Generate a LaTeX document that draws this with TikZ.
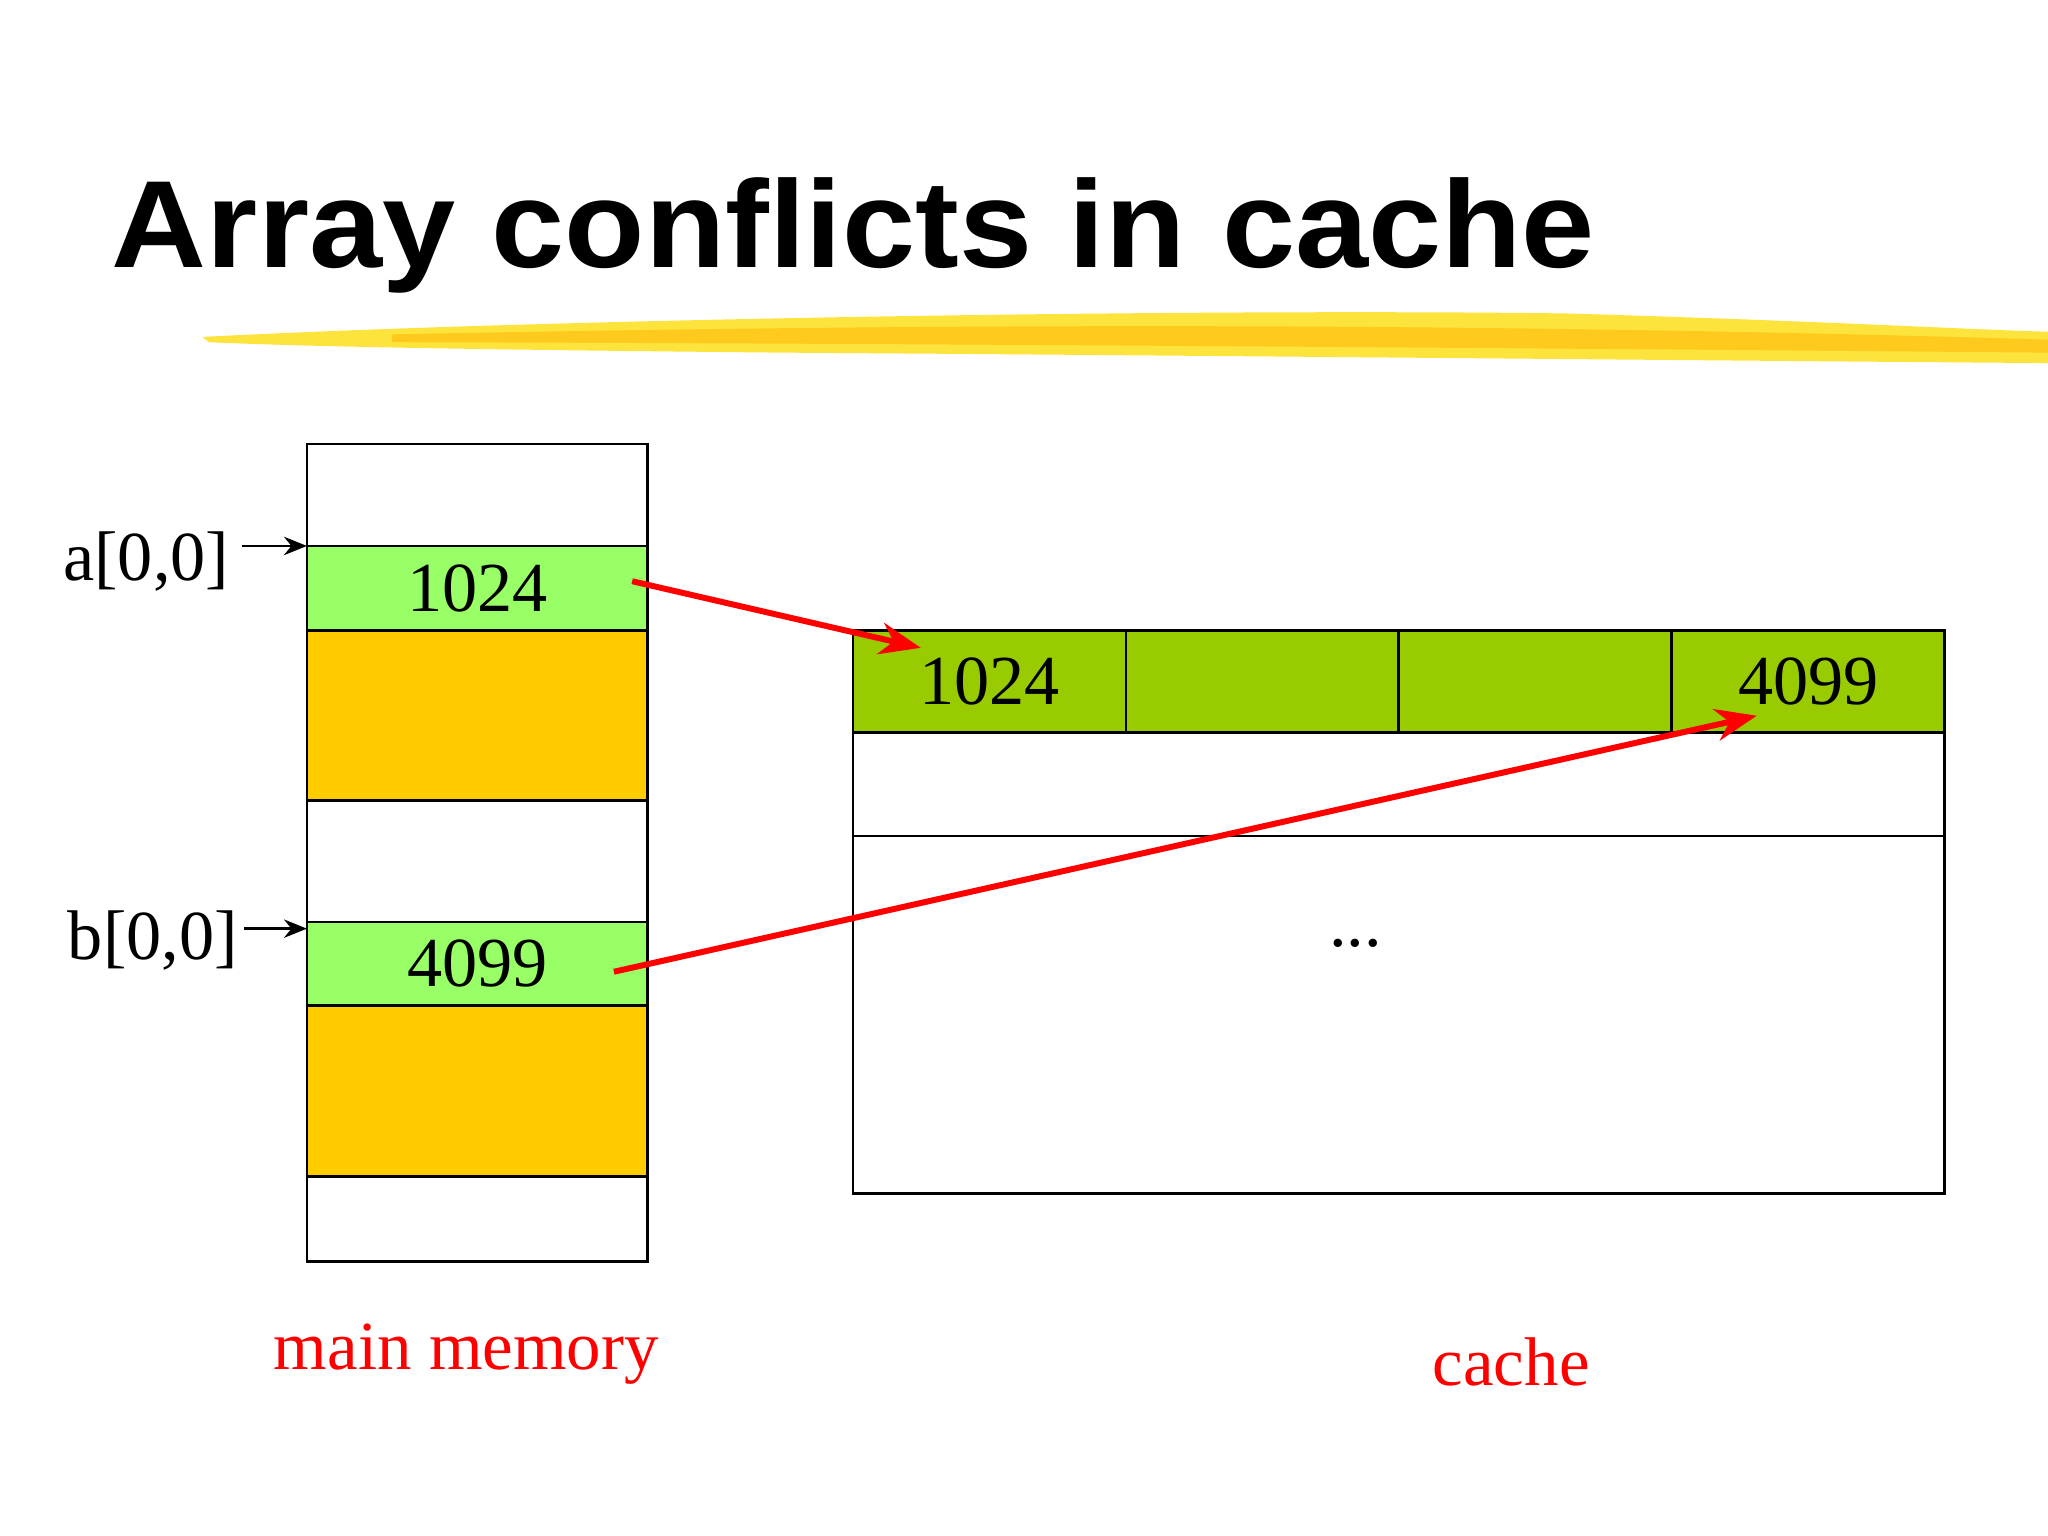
\documentclass[tikz,border=0pt]{standalone}
\usepackage{fontspec}
\usetikzlibrary{arrows.meta}
\setmainfont{Liberation Serif}
\newfontfamily\titlefont{Liberation Sans}
\begin{document}
\begin{tikzpicture}[x=0.01cm,y=-0.01cm,
  cell/.style={draw=black,line width=0.6pt},
  lab/.style={font=\fontsize{15.3}{18}\selectfont},
  redlab/.style={font=\fontsize{15}{18}\selectfont,text=red},
  redarrow/.style={draw=red,line width=1.3pt,-{Stealth[length=9pt,width=7pt]}},
  ptr/.style={-{Stealth[length=5pt,width=4pt]},line width=0.6pt}]
\useasboundingbox (0,0) rectangle (1568,1176);
\fill[white] (0,0) rectangle (1568,1176);
% title
\node[anchor=base west,inner sep=0,font=\titlefont\bfseries\fontsize{27}{30}\selectfont,xscale=1.06] (title) at (85,205) {Array conflicts in cache};
% brush stroke
\fill[yellow!80!orange!90!white,opacity=0.85] (155,258) .. controls (400,245) and (900,236) .. (1200,240) .. controls (1400,246) and (1500,252) .. (1568,254) -- (1568,278) .. controls (1300,276) and (900,272) .. (600,270) .. controls (400,268) and (250,266) .. (160,262) -- cycle;
\fill[orange!60!yellow,opacity=0.5] (300,256) .. controls (700,248) and (1100,246) .. (1568,260) -- (1568,270) .. controls (1100,266) and (700,263) .. (300,262) -- cycle;
% memory
\draw[cell] (235,340) rectangle (496,418);
\draw[cell,fill={rgb,255:red,153;green,255;blue,102}] (235,418) rectangle node[lab] (m1) {1024} (496,483);
\draw[cell,fill={rgb,255:red,255;green,204;blue,0}] (235,483) rectangle (496,613);
\draw[cell] (235,613) rectangle (496,706);
\draw[cell,fill={rgb,255:red,153;green,255;blue,102}] (235,706) rectangle node[lab] (m2) {4099} (496,770);
\draw[cell,fill={rgb,255:red,255;green,204;blue,0}] (235,770) rectangle (496,901);
\draw[cell] (235,901) rectangle (496,966);
\node[lab] (a) at (112,430) {a[0,0]};
\node[lab] (b) at (117,720) {b[0,0]};
\coordinate (at) at (235,418); \coordinate (bt) at (235,711);
\draw[ptr] (185,418) -- (at);
\draw[ptr] (187,711) -- (bt);
% cache
\draw[cell,fill={rgb,255:red,153;green,204;blue,0}] (653,483) rectangle node[lab] (c1) {1024} (862,561);
\draw[cell,fill={rgb,255:red,153;green,204;blue,0}] (862,483) rectangle (1071,561);
\draw[cell,fill={rgb,255:red,153;green,204;blue,0}] (1071,483) rectangle (1280,561);
\draw[cell,fill={rgb,255:red,153;green,204;blue,0}] (1280,483) rectangle node[lab] (c4) {4099} (1489,561);
\draw[cell] (653,561) rectangle (1489,640);
\draw[cell] (653,640) rectangle (1489,914);
\node[lab] (dots) at (1038,722) {...};
% arrows
\coordinate (s1) at (484,445); \coordinate (e1) at (705,496);
\coordinate (s2) at (470,744); \coordinate (e2) at (1345,548);
\draw[redarrow] (s1) -- (e1);
\draw[redarrow] (s2) -- (e2);
\node[redlab] (mm) at (357,1037) {main memory};
\node[redlab] (ca) at (1157,1043) {cache};
\end{tikzpicture}
\end{document}
